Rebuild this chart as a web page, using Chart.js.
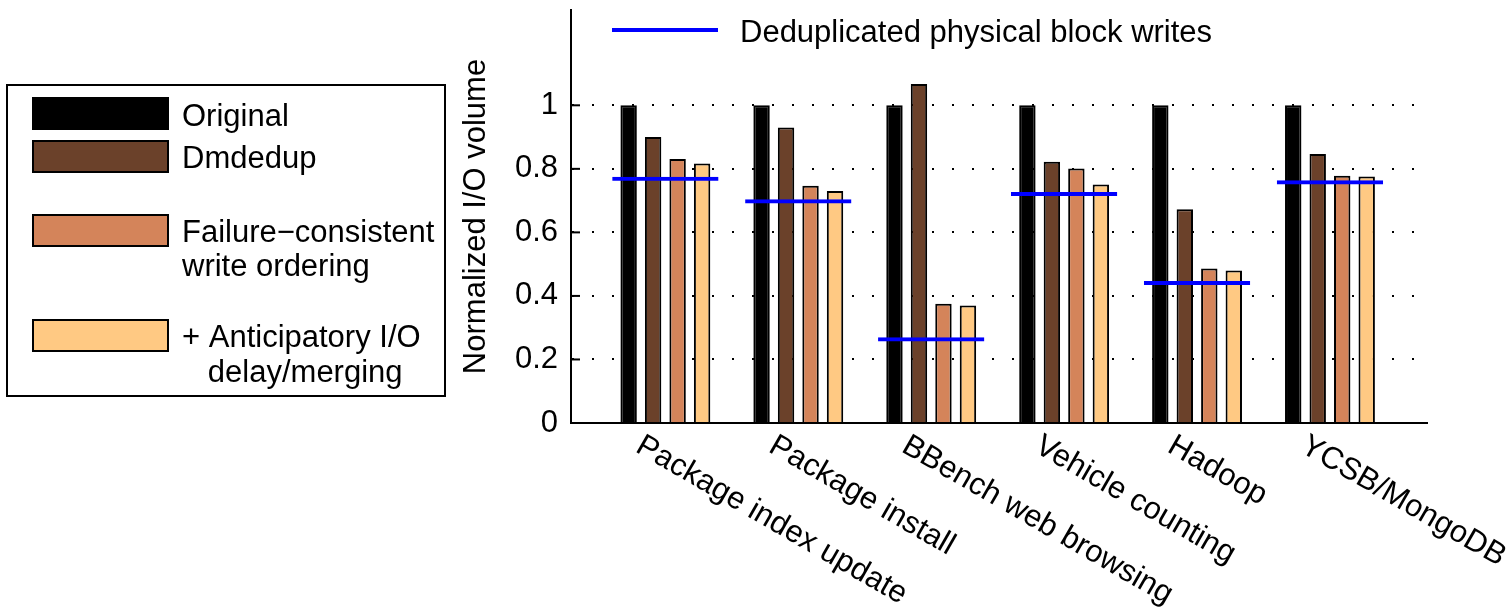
<!DOCTYPE html>
<html>
<head>
<meta charset="utf-8">
<script src="https://cdn.jsdelivr.net/npm/chart.js@4.4.0/dist/chart.umd.min.js"></script>
<style>
  html, body { margin: 0; padding: 0; background: #fff; }
</style>
</head>
<body>
<canvas id="myChart" width="1511" height="609"></canvas>
<script>
// workloads on the x axis
var categories = ['Package index update', 'Package install', 'BBench web browsing',
                  'Vehicle counting', 'Hadoop', 'YCSB/MongoDB'];

// normalized I/O volume per configuration
var original           = [1, 1, 1, 1, 1, 1];
var dmdedup            = [0.90, 0.93, 1.067, 0.822, 0.673, 0.847];
var failureConsistent  = [0.831, 0.747, 0.375, 0.801, 0.486, 0.778];
var anticipatory       = [0.817, 0.730, 0.370, 0.751, 0.480, 0.776];
var dedupPhysical      = [0.775, 0.704, 0.270, 0.727, 0.447, 0.764];

var yTicks = [0, 0.2, 0.4, 0.6, 0.8, 1];
var yTickLabels = ['0', '0.2', '0.4', '0.6', '0.8', '1'];

var seriesNames = ['Original', 'Dmdedup',
                   ['Failure\u2212consistent', 'write ordering'],
                   ['+ Anticipatory I/O', '   delay/merging']];
var lineName = 'Deduplicated physical block writes';

var barColors = ['#000000', '#6b412a', '#d4845a', '#ffc983'];
var FONT = '"Liberation Sans", Arial, Helvetica, sans-serif';

function toPoints(arr) {
  return arr.map(function (v, i) { return { x: i + 1, y: v }; });
}
function labelText(name) {
  return Array.isArray(name) ? name.join(' ') : name;
}

var barSeries = [original, dmdedup, failureConsistent, anticipatory];

var datasets = barSeries.map(function (values, k) {
  return {
    label: labelText(seriesNames[k]),
    data: toPoints(values),
    backgroundColor: barColors[k],
    borderColor: '#000',
    borderWidth: 2,
    categoryPercentage: 0.737,
    barPercentage: 0.67
  };
});

// blue line = top edge of an unfilled, ungrouped bar
datasets.push({
  label: lineName,
  data: toPoints(dedupPhysical),
  backgroundColor: 'rgba(0,0,0,0)',
  borderColor: '#0000ff',
  borderWidth: { top: 4, left: 0, right: 0, bottom: 0 },
  grouped: false,
  categoryPercentage: 1,
  barPercentage: 0.8,
  order: -1
});

var sketchPlugin = {
  id: 'sketch',
  afterDraw: function (chart) {
    var ctx = chart.ctx;
    var xs = chart.scales.x, ys = chart.scales.y, area = chart.chartArea;
    ctx.save();
    ctx.fillStyle = '#000';
    ctx.strokeStyle = '#000';
    ctx.font = '31px ' + FONT;
    ctx.textBaseline = 'alphabetic';
    ctx.textAlign = 'left';

    // rotated category labels
    categories.forEach(function (name, i) {
      var px = xs.getPixelForValue(i + 1);
      ctx.save();
      ctx.translate(px - 31, area.bottom + 28);
      ctx.rotate(Math.PI / 6);
      ctx.fillText(name, 0, 0);
      ctx.restore();
    });

    // inward tick marks on y axis
    ctx.lineWidth = 2;
    yTicks.forEach(function (v) {
      var py = ys.getPixelForValue(v);
      ctx.beginPath();
      ctx.moveTo(area.left, py);
      ctx.lineTo(area.left + 9, py);
      ctx.stroke();
    });

    // legend for the blue line
    ctx.strokeStyle = '#0000ff';
    ctx.lineWidth = 4;
    ctx.beginPath();
    ctx.moveTo(612, 30);
    ctx.lineTo(718, 30);
    ctx.stroke();
    ctx.fillText(lineName, 740, 42);

    // boxed legend on the left
    ctx.strokeStyle = '#000';
    ctx.lineWidth = 2;
    ctx.strokeRect(7, 85, 438, 311);
    var swTops = [98, 141, 215, 320];
    var baselines = [[126], [168], [242, 276], [347, 382]];
    ctx.lineWidth = 2;
    seriesNames.forEach(function (name, k) {
      ctx.fillStyle = barColors[k];
      ctx.fillRect(33, swTops[k], 135, 31);
      ctx.strokeRect(33, swTops[k], 135, 31);
      ctx.fillStyle = '#000';
      var lines = Array.isArray(name) ? name : [name];
      lines.forEach(function (t, j) {
        ctx.fillText(t, 182, baselines[k][j]);
      });
    });
    ctx.restore();
  }
};

var myChart = new Chart(document.getElementById('myChart'), {
  type: 'bar',
  data: { datasets: datasets },
  plugins: [sketchPlugin],
  options: {
    responsive: false,
    animation: false,
    layout: { padding: { left: 455, top: 10, right: 84, bottom: 0 } },
    plugins: {
      legend: { display: false },
      tooltip: { enabled: false }
    },
    scales: {
      x: {
        type: 'linear',
        min: 0.29,
        max: 6.73,
        offset: false,
        grid: { display: false, offset: false, drawTicks: false },
        border: { display: true, color: '#000', width: 2 },
        ticks: { display: false },
        afterBuildTicks: function (scale) {
          scale.ticks = categories.map(function (c, i) { return { value: i + 1 }; });
        },
        afterFit: function (scale) {
          scale.height = 186;
          scale.paddingLeft = 0;
          scale.paddingRight = 0;
        }
      },
      y: {
        min: 0,
        max: 1.3,
        afterBuildTicks: function (scale) {
          scale.ticks = yTicks.map(function (v) { return { value: v }; });
        },
        ticks: {
          color: '#000',
          padding: 13,
          font: { family: FONT, size: 31 },
          callback: function (value, index) { return yTickLabels[index]; }
        },
        grid: { color: '#000', lineWidth: 2, drawTicks: false },
        border: { display: true, color: '#000', width: 2, dash: [2, 18] },
        title: {
          display: true,
          text: 'Normalized I/O volume',
          color: '#000',
          font: { family: FONT, size: 31 },
          padding: { top: 3, bottom: 3 }
        },
        afterFit: function (scale) {
          scale.width = 116;
          scale.paddingTop = 0;
          scale.paddingBottom = 0;
        }
      }
    }
  }
});
</script>
</body>
</html>
